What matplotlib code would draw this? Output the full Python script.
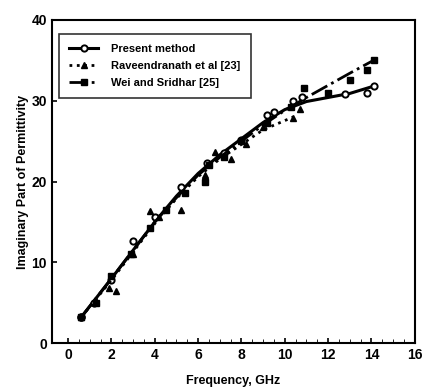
import numpy as np
import matplotlib.pyplot as plt
from matplotlib.legend_handler import HandlerTuple

plt.rcParams['font.family'] = ['Liberation Sans', 'DejaVu Sans']
plt.rcParams['font.weight'] = 'bold'

# Present method: measured points and drawn curve
freq_pm = [0.6, 1.2, 2.0, 3.0, 4.0, 5.2, 6.4, 7.2, 8.0, 9.2, 9.5, 10.4, 10.8, 12.8, 13.8, 14.1]
eps_pm = [3.2, 5.0, 7.8, 12.6, 15.6, 19.3, 22.3, 23.5, 25.2, 28.2, 28.6, 30.0, 30.4, 30.8, 31.0, 31.8]
curve_pm_x = [0.6, 2.0, 3.0, 4.0, 5.0, 6.0, 7.0, 8.0, 9.0, 10.0, 11.0, 12.0, 13.0, 14.1]
curve_pm_y = [3.2, 8.0, 11.5, 15.0, 18.2, 21.0, 23.3, 25.3, 27.3, 28.9, 29.9, 30.4, 30.9, 31.8]

# Raveendranath et al [23]
freq_rv = [0.6, 1.3, 1.9, 2.2, 3.0, 3.8, 4.2, 5.2, 6.3, 6.8, 7.5, 8.2, 9.0, 10.4, 10.7]
eps_rv = [3.3, 5.2, 6.8, 6.4, 11.0, 16.3, 15.6, 16.5, 20.8, 23.6, 22.8, 24.6, 26.8, 27.9, 29.0]
curve_rv_x = [0.6, 2.0, 3.0, 4.0, 5.0, 6.0, 7.0, 8.0, 9.0, 10.4]
curve_rv_y = [3.2, 7.8, 11.3, 14.8, 17.9, 20.6, 22.8, 24.6, 26.4, 28.0]

# Wei and Sridhar [25]
freq_ws = [0.6, 1.3, 2.0, 2.9, 3.8, 4.5, 5.4, 6.3, 6.5, 7.2, 8.0, 9.2, 10.3, 10.9, 12.0, 13.0, 13.8, 14.1]
eps_ws = [3.2, 5.0, 8.3, 11.0, 14.3, 16.5, 18.6, 20.0, 22.0, 23.0, 25.0, 27.2, 29.2, 31.6, 31.0, 32.6, 33.8, 35.0]
curve_ws_x = [0.6, 2.0, 3.0, 4.0, 5.0, 6.0, 7.0, 8.0, 9.0, 10.0, 11.0, 12.0, 13.0, 14.1]
curve_ws_y = [3.2, 8.0, 11.5, 15.0, 18.0, 20.8, 23.0, 25.0, 27.0, 28.8, 30.4, 31.9, 33.4, 35.0]

fig = plt.figure(figsize=(4.25, 3.9), dpi=100)
ax = fig.add_axes([0.122, 0.12, 0.854, 0.829])

l1, = ax.plot(curve_pm_x, curve_pm_y, '-', c='black', lw=2.2)
m1, = ax.plot(freq_pm, eps_pm, 'o', c='black', ms=4.5, mfc='white', mew=1.4)
ax.plot(freq_pm[0], eps_pm[0], 'o', c='black', ms=5)
l2, = ax.plot(curve_rv_x, curve_rv_y, ':', c='black', lw=2)
m2, = ax.plot(freq_rv, eps_rv, '^', c='black', ms=4)
l3, = ax.plot(curve_ws_x, curve_ws_y, '-.', c='black', lw=2)
m3, = ax.plot(freq_ws, eps_ws, 's', c='black', ms=3.8)

ax.set_xlim(-0.75, 16)
ax.set_ylim(0, 40)
ax.set_xticks(np.arange(0, 17, 2))
ax.set_xticks(np.arange(0, 16.1, 0.5), minor=True)
ax.set_yticks([0, 10, 20, 30, 40])
ax.tick_params(direction='in', labelsize=10, width=1.2)
ax.tick_params(which='minor', direction='in', length=3)
for s in ax.spines.values():
    s.set_linewidth(1.5)

ax.set_xlabel('Frequency, GHz', fontsize=9, fontweight='bold', labelpad=9)
ax.set_ylabel('Imaginary Part of Permittivity', fontsize=9, fontweight='bold', labelpad=2)

leg = ax.legend([(l1, m1), (l2, m2), (l3, m3)],
                ['Present method', 'Raveendranath et al [23]', 'Wei and Sridhar [25]'],
                handler_map={tuple: HandlerTuple(ndivide=1)},
                loc='upper left', fontsize=8, fancybox=False, edgecolor='black',
                handlelength=2.6, handletextpad=1.2, borderpad=0.9, labelspacing=0.65,
                bbox_to_anchor=(0.005, 0.975))
leg.get_frame().set_linewidth(1.2)

plt.savefig('out.png')
